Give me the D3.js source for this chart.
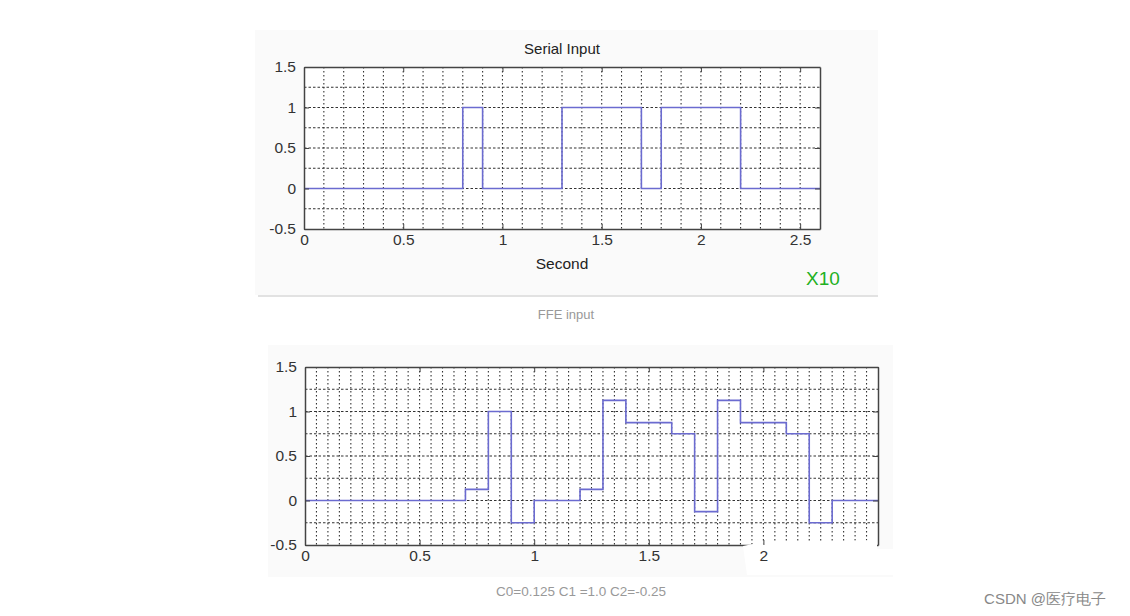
<!DOCTYPE html>
<html>
<head>
<meta charset="utf-8">
<script src="https://cdnjs.cloudflare.com/ajax/libs/d3/7.8.5/d3.min.js"></script>
<style>
  body { margin: 0; background: #fff; }
  svg text { font-family: "Liberation Sans", Arial, sans-serif; }
</style>
</head>
<body>
<div id="chart"></div>
<script>
// Serial input (top): step breakpoints and levels
var serialTimes  = [0, 0.8, 0.9, 1.3, 1.7, 1.8, 2.2, 2.6];
var serialLevels = [0, 1,   0,   1,   0,   1,   0,   0];

// FFE output (bottom): C0=0.125, C1=1.0, C2=-0.25
var ffeTimes  = [0, 0.7,   0.8, 0.9,   1.0, 1.2,   1.3,   1.4,   1.6,  1.7,    1.8,   1.9,   2.1,  2.2,   2.3, 2.5];
var ffeLevels = [0, 0.125, 1,   -0.25, 0,   0.125, 1.125, 0.875, 0.75, -0.125, 1.125, 0.875, 0.75, -0.25, 0,   0];

var xTickValues = [0, 0.5, 1, 1.5, 2, 2.5];
var xTickLabels = ["0", "0.5", "1", "1.5", "2", "2.5"];
var yTickValues = [-0.5, 0, 0.5, 1, 1.5];
var yTickLabels = ["-0.5", "0", "0.5", "1", "1.5"];

var svgWidth = 1130;
var svgHeight = 616;

var svg = d3.select("#chart")
  .append("svg")
  .attr("width", svgWidth)
  .attr("height", svgHeight);

// light figure backgrounds
svg.append("rect").attr("x", 255).attr("y", 30).attr("width", 623).attr("height", 265).attr("fill", "#fafafa");
svg.append("rect").attr("x", 268).attr("y", 345).attr("width", 625).attr("height", 232).attr("fill", "#fafafa");
svg.append("line")
  .attr("x1", 258).attr("x2", 878).attr("y1", 296).attr("y2", 296)
  .attr("stroke", "#d8d8d8").attr("stroke-width", 1.5);

function drawPanel(opt) {
  var g = svg.append("g")
    .attr("transform", `translate(${opt.left}, ${opt.top})`);

  var x = d3.scaleLinear().domain(opt.xDomain).range([0, opt.width]);
  var y = d3.scaleLinear().domain([-0.5, 1.5]).range([opt.height, 0]);

  g.append("rect")
    .attr("width", opt.width).attr("height", opt.height)
    .attr("fill", "#fff");

  // dotted grid
  var xGrid = d3.range(opt.xDomain[0] + opt.xGridStep, opt.xDomain[1] - 1e-9, opt.xGridStep);
  g.selectAll(".vgrid")
    .data(xGrid)
    .enter().append("line")
    .attr("x1", d => x(d)).attr("x2", d => x(d))
    .attr("y1", 0).attr("y2", opt.height)
    .attr("stroke", "#333")
    .attr("stroke-width", 1.1)
    .attr("stroke-dasharray", "1.5,2.5");

  var yGrid = [-0.25, 0, 0.25, 0.5, 0.75, 1, 1.25];
  g.selectAll(".hgrid")
    .data(yGrid)
    .enter().append("line")
    .attr("x1", 0).attr("x2", opt.width)
    .attr("y1", d => y(d)).attr("y2", d => y(d))
    .attr("stroke", "#333")
    .attr("stroke-width", 1.1)
    .attr("stroke-dasharray", "2.5,2");

  // signal
  var pts = opt.times.map((t, i) => [t, opt.levels[i]]);
  var line = d3.line()
    .x(d => x(d[0]))
    .y(d => y(d[1]))
    .curve(d3.curveStepAfter);
  g.append("path")
    .datum(pts)
    .attr("d", line)
    .attr("fill", "none")
    .attr("stroke", "#6b6bd0")
    .attr("stroke-width", 1.6);

  // axes (MATLAB style, ticks inward, box)
  var bottomAxis = d3.axisBottom(x).tickValues(xTickValues)
    .tickFormat((d, i) => xTickLabels[i]).tickSizeInner(-5).tickSizeOuter(0).tickPadding(8);
  var topAxis = d3.axisTop(x).tickValues(xTickValues)
    .tickFormat("").tickSizeInner(-5).tickSizeOuter(0);
  var leftAxis = d3.axisLeft(y).tickValues(yTickValues)
    .tickFormat((d, i) => yTickLabels[i]).tickSizeInner(-5).tickSizeOuter(0).tickPadding(8);
  var rightAxis = d3.axisRight(y).tickValues(yTickValues)
    .tickFormat("").tickSizeInner(-5).tickSizeOuter(0);

  var gt = g.append("g").call(topAxis);
  var gl = g.append("g").call(leftAxis);
  var gr = g.append("g").attr("transform", `translate(${opt.width}, 0)`).call(rightAxis);
  var gb = g.append("g").attr("transform", `translate(0, ${opt.height})`).call(bottomAxis);

  [gb, gt, gl, gr].forEach(function (a) {
    a.select(".domain").attr("stroke", "#444").attr("stroke-width", 1.5);
    a.selectAll(".tick line").attr("stroke", "#444");
    a.selectAll("text").attr("font-size", "15.5px").attr("fill", "#333");
  });
  gb.selectAll("text").attr("dy", "0.5em");

  return { g: g, x: x, y: y, bottomAxis: gb };
}

// top panel
var topPanel = drawPanel({
  left: 304, top: 67, width: 516, height: 162,
  xDomain: [0, 2.6], xGridStep: 0.1,
  times: serialTimes, levels: serialLevels
});
topPanel.g.append("text")
  .attr("x", 516 / 2).attr("y", -13)
  .attr("text-anchor", "middle")
  .attr("font-size", "15px").attr("fill", "#222")
  .text("Serial Input");
topPanel.g.append("text")
  .attr("x", 516 / 2).attr("y", 202)
  .attr("text-anchor", "middle")
  .attr("font-size", "15.5px").attr("fill", "#222")
  .text("Second");

// bottom panel
var bottomPanel = drawPanel({
  left: 305, top: 367, width: 573, height: 178,
  xDomain: [0, 2.5], xGridStep: 0.05,
  times: ffeTimes, levels: ffeLevels
});

// white smudge over the bottom-right frame (as in the source image), kept under tick labels
bottomPanel.bottomAxis.insert("path", ".tick")
  .attr("d", "M438,1 Q455,-3 480,-2 L572,-5 L572,4 L590,4 L590,30 L442,30 Z")
  .attr("fill", "#fff");
// the 2.5 label is hidden by the smudge in the source
bottomPanel.bottomAxis.selectAll(".tick text")
  .filter(d => d === 2.5)
  .remove();

// captions
svg.append("text")
  .attr("x", 806).attr("y", 285)
  .attr("font-size", "19px").attr("fill", "#22b022")
  .text("X10");

svg.append("text")
  .attr("x", 566).attr("y", 319)
  .attr("text-anchor", "middle")
  .attr("font-family", "'Open Sans', 'Noto Sans', sans-serif")
  .attr("font-size", "13px").attr("fill", "#999")
  .text("FFE input");

svg.append("text")
  .attr("x", 581).attr("y", 596)
  .attr("text-anchor", "middle")
  .attr("font-family", "'Open Sans', 'Noto Sans', sans-serif")
  .attr("font-size", "13.5px").attr("fill", "#999")
  .text("C0=0.125 C1 =1.0 C2=-0.25");

svg.append("text")
  .attr("x", 1045).attr("y", 604)
  .attr("text-anchor", "middle")
  .attr("font-family", "'Noto Sans CJK SC', sans-serif")
  .attr("font-size", "15px").attr("fill", "#888")
  .text("CSDN @医疗电子");
</script>
</body>
</html>
